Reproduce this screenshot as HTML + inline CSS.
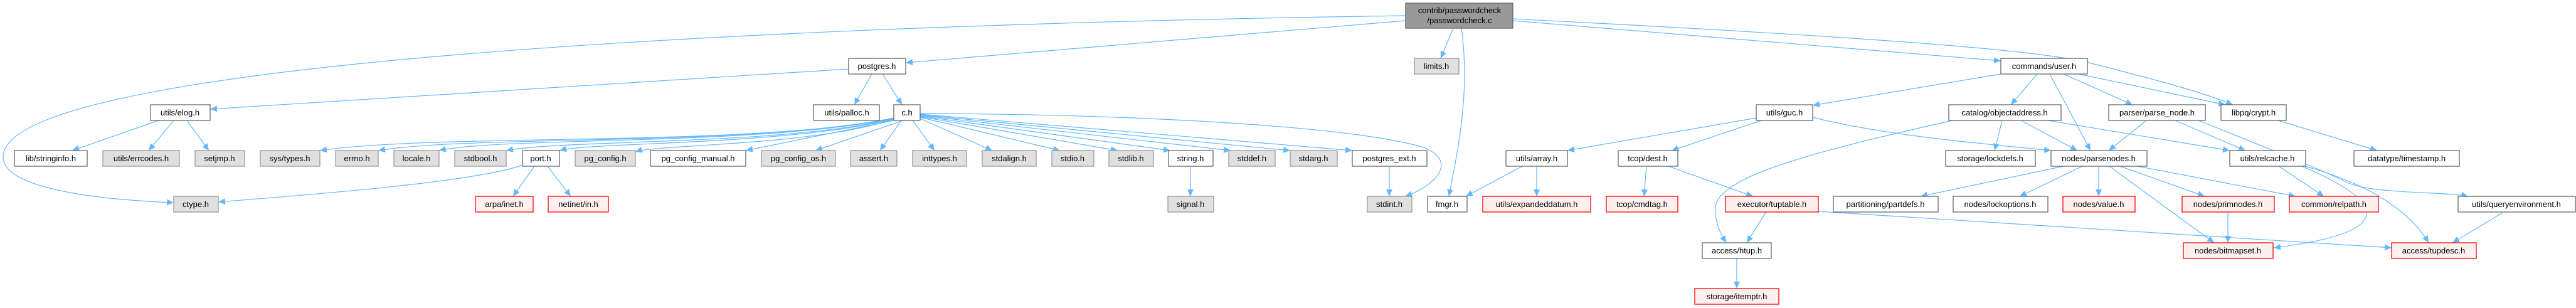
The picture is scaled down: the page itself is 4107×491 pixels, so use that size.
<!DOCTYPE html>
<html><head><meta charset="utf-8"><style>
html,body{margin:0;padding:0;background:#fff;}
svg{display:block;}
text{font-family:"Liberation Sans",sans-serif;font-size:13px;fill:#000;text-anchor:middle;}
.w{fill:#fff;stroke:#666;stroke-width:1.3}
.g{fill:#e0e0e0;stroke:#999;stroke-width:1.3}
.r{fill:#fff0f0;stroke:#f00;stroke-width:1.3}
.k{fill:#999;stroke:#666;stroke-width:1.3}
path.e{fill:none;stroke:#63b8ff;stroke-width:1.2;marker-end:url(#a)}
</style></head><body>
<svg width="4107" height="491" viewBox="0 0 4107 491" xmlns="http://www.w3.org/2000/svg">
<defs><marker id="a" markerUnits="userSpaceOnUse" markerWidth="12" markerHeight="10" refX="11" refY="5" orient="auto"><path d="M0,0 L11,5 L0,10 z" fill="#63b8ff"/></marker></defs>
<g>
<path class="e" d="M2241,25 C1200,40 5,100 5,250 C5,300 150,318 277,323"/>
<path class="e" d="M2241,33 L1444,100"/>
<path class="e" d="M2317,45 L2297,93"/>
<path class="e" d="M2330,45 C2345,150 2322,250 2310,313"/>
<path class="e" d="M2412,33 L3190,97"/>
<path class="e" d="M2412,30 C3000,60 3250,80 3330,100 C3450,130 3520,150 3560,167"/>
<path class="e" d="M1353,110 L335,174"/>
<path class="e" d="M1390,118 L1362,167"/>
<path class="e" d="M1407,118 L1438,167"/>
<path class="e" d="M253,192 L115,240"/>
<path class="e" d="M277,192 L237,240"/>
<path class="e" d="M298,192 L333,240"/>
<path class="e" d="M1425,188 C1200,235 700,212 510,240"/>
<path class="e" d="M1425,188 C1200,234 750,215 603,240"/>
<path class="e" d="M1425,189 C1200,233 800,218 700,240"/>
<path class="e" d="M1425,189 C1250,232 900,222 807,240"/>
<path class="e" d="M1425,190 C1250,232 950,226 892,240"/>
<path class="e" d="M1425,190 C1300,232 1050,230 1013,242"/>
<path class="e" d="M1430,191 L1189,240"/>
<path class="e" d="M1440,192 L1300,240"/>
<path class="e" d="M1437,192 L1403,240"/>
<path class="e" d="M1455,192 L1490,240"/>
<path class="e" d="M1467,189 L1582,240"/>
<path class="e" d="M1467,187 L1690,240"/>
<path class="e" d="M1467,186 L1782,240"/>
<path class="e" d="M1467,185 L1866,240"/>
<path class="e" d="M1467,184 L1962,240"/>
<path class="e" d="M1467,183 L2057,240"/>
<path class="e" d="M1467,182 L2156,240"/>
<path class="e" d="M1467,181 C1800,182 2150,200 2270,235 C2330,260 2280,300 2240,313"/>
<path class="e" d="M833,263 C760,290 500,310 348,322"/>
<path class="e" d="M852,265 L818,313"/>
<path class="e" d="M873,265 L910,313"/>
<path class="e" d="M1898,265 L1898,313"/>
<path class="e" d="M2215,265 L2215,313"/>
<path class="e" d="M3190,118 L2890,168"/>
<path class="e" d="M3248,118 L3206,167"/>
<path class="e" d="M3268,118 L3333,240"/>
<path class="e" d="M3290,118 L3400,167"/>
<path class="e" d="M3314,118 L3548,167"/>
<path class="e" d="M2800,188 L2499,240"/>
<path class="e" d="M2808,192 L2665,240"/>
<path class="e" d="M2890,187 C3000,215 3150,228 3270,240"/>
<path class="e" d="M3113,192 C2900,240 2740,280 2735,330 C2733,355 2745,375 2752,387"/>
<path class="e" d="M2427,265 L2337,313"/>
<path class="e" d="M2450,265 L2450,313"/>
<path class="e" d="M2625,265 L2621,313"/>
<path class="e" d="M2660,265 L2795,313"/>
<path class="e" d="M2815,339 L2785,387"/>
<path class="e" d="M2899,337 L3813,395"/>
<path class="e" d="M2769,412 L2769,460"/>
<path class="e" d="M3192,192 L3180,240"/>
<path class="e" d="M3222,192 L3312,240"/>
<path class="e" d="M3265,192 L3555,240"/>
<path class="e" d="M3422,192 L3362,240"/>
<path class="e" d="M3468,192 L3580,240"/>
<path class="e" d="M3505,192 C3650,250 3700,270 3740,290 S3900,305 3935,313"/>
<path class="e" d="M3632,192 L3790,240"/>
<path class="e" d="M3290,265 L3062,313"/>
<path class="e" d="M3320,265 L3220,313"/>
<path class="e" d="M3346,265 L3346,313"/>
<path class="e" d="M3363,265 L3530,387"/>
<path class="e" d="M3380,265 L3515,313"/>
<path class="e" d="M3408,265 L3660,313"/>
<path class="e" d="M3633,265 L3705,313"/>
<path class="e" d="M3670,265 C3800,320 3830,370 3625,395"/>
<path class="e" d="M3675,265 C3800,300 3850,350 3872,387"/>
<path class="e" d="M3552,339 L3552,387"/>
<path class="e" d="M3990,339 L3910,387"/>
</g>
<g>
<rect class="k" x="2241" y="5" width="171" height="40"/><text x="2327" y="21">contrib/passwordcheck</text><text x="2327" y="37">/passwordcheck.c</text>
<rect class="w" x="1353" y="93" width="91" height="25"/><text x="1398" y="110">postgres.h</text>
<rect class="g" x="2255" y="93" width="71" height="25"/><text x="2290" y="110">limits.h</text>
<rect class="w" x="3190" y="93" width="138" height="25"/><text x="3259" y="110">commands/user.h</text>
<rect class="w" x="240" y="167" width="95" height="25"/><text x="287" y="184">utils/elog.h</text>
<rect class="w" x="1297" y="167" width="105" height="25"/><text x="1350" y="184">utils/palloc.h</text>
<rect class="w" x="1425" y="167" width="42" height="25"/><text x="1446" y="184">c.h</text>
<rect class="w" x="2800" y="167" width="90" height="25"/><text x="2845" y="184">utils/guc.h</text>
<rect class="w" x="3107" y="167" width="179" height="25"/><text x="3196" y="184">catalog/objectaddress.h</text>
<rect class="w" x="3362" y="167" width="154" height="25"/><text x="3439" y="184">parser/parse_node.h</text>
<rect class="w" x="3541" y="167" width="104" height="25"/><text x="3593" y="184">libpq/crypt.h</text>
<rect class="w" x="23" y="240" width="116" height="25"/><text x="81" y="257">lib/stringinfo.h</text>
<rect class="g" x="164" y="240" width="122" height="25"/><text x="225" y="257">utils/errcodes.h</text>
<rect class="g" x="311" y="240" width="79" height="25"/><text x="350" y="257">setjmp.h</text>
<rect class="g" x="415" y="240" width="95" height="25"/><text x="462" y="257">sys/types.h</text>
<rect class="g" x="535" y="240" width="68" height="25"/><text x="569" y="257">errno.h</text>
<rect class="g" x="628" y="240" width="72" height="25"/><text x="664" y="257">locale.h</text>
<rect class="g" x="725" y="240" width="82" height="25"/><text x="766" y="257">stdbool.h</text>
<rect class="w" x="833" y="240" width="59" height="25"/><text x="862" y="257">port.h</text>
<rect class="g" x="917" y="240" width="96" height="25"/><text x="965" y="257">pg_config.h</text>
<rect class="w" x="1037" y="240" width="152" height="25"/><text x="1113" y="257">pg_config_manual.h</text>
<rect class="g" x="1214" y="240" width="118" height="25"/><text x="1273" y="257">pg_config_os.h</text>
<rect class="g" x="1356" y="240" width="74" height="25"/><text x="1393" y="257">assert.h</text>
<rect class="g" x="1455" y="240" width="86" height="25"/><text x="1498" y="257">inttypes.h</text>
<rect class="g" x="1566" y="240" width="86" height="25"/><text x="1609" y="257">stdalign.h</text>
<rect class="g" x="1677" y="240" width="67" height="25"/><text x="1710" y="257">stdio.h</text>
<rect class="g" x="1768" y="240" width="71" height="25"/><text x="1803" y="257">stdlib.h</text>
<rect class="w" x="1863" y="240" width="71" height="25"/><text x="1898" y="257">string.h</text>
<rect class="g" x="1959" y="240" width="74" height="25"/><text x="1996" y="257">stddef.h</text>
<rect class="g" x="2057" y="240" width="75" height="25"/><text x="2094" y="257">stdarg.h</text>
<rect class="w" x="2156" y="240" width="119" height="25"/><text x="2215" y="257">postgres_ext.h</text>
<rect class="w" x="2401" y="240" width="98" height="25"/><text x="2450" y="257">utils/array.h</text>
<rect class="w" x="2580" y="240" width="95" height="25"/><text x="2627" y="257">tcop/dest.h</text>
<rect class="w" x="3102" y="240" width="143" height="25"/><text x="3173" y="257">storage/lockdefs.h</text>
<rect class="w" x="3270" y="240" width="153" height="25"/><text x="3346" y="257">nodes/parsenodes.h</text>
<rect class="w" x="3555" y="240" width="121" height="25"/><text x="3615" y="257">utils/relcache.h</text>
<rect class="w" x="3753" y="240" width="168" height="25"/><text x="3837" y="257">datatype/timestamp.h</text>
<rect class="g" x="277" y="313" width="71" height="25"/><text x="312" y="330">ctype.h</text>
<rect class="r" x="758" y="313" width="92" height="25"/><text x="804" y="330">arpa/inet.h</text>
<rect class="r" x="874" y="313" width="96" height="25"/><text x="922" y="330">netinet/in.h</text>
<rect class="g" x="1862" y="313" width="73" height="25"/><text x="1898" y="330">signal.h</text>
<rect class="g" x="2180" y="313" width="71" height="25"/><text x="2215" y="330">stdint.h</text>
<rect class="w" x="2276" y="313" width="63" height="25"/><text x="2307" y="330">fmgr.h</text>
<rect class="r" x="2364" y="313" width="172" height="25"/><text x="2450" y="330">utils/expandeddatum.h</text>
<rect class="r" x="2561" y="313" width="114" height="25"/><text x="2618" y="330">tcop/cmdtag.h</text>
<rect class="r" x="2751" y="313" width="148" height="25"/><text x="2825" y="330">executor/tuptable.h</text>
<rect class="w" x="2923" y="313" width="167" height="25"/><text x="3006" y="330">partitioning/partdefs.h</text>
<rect class="w" x="3114" y="313" width="151" height="25"/><text x="3189" y="330">nodes/lockoptions.h</text>
<rect class="r" x="3289" y="313" width="115" height="25"/><text x="3346" y="330">nodes/value.h</text>
<rect class="r" x="3479" y="313" width="147" height="25"/><text x="3552" y="330">nodes/primnodes.h</text>
<rect class="r" x="3650" y="313" width="142" height="25"/><text x="3721" y="330">common/relpath.h</text>
<rect class="w" x="3919" y="313" width="187" height="25"/><text x="4012" y="330">utils/queryenvironment.h</text>
<rect class="w" x="2714" y="387" width="110" height="25"/><text x="2769" y="404">access/htup.h</text>
<rect class="r" x="3481" y="387" width="143" height="25"/><text x="3552" y="404">nodes/bitmapset.h</text>
<rect class="r" x="3813" y="387" width="135" height="25"/><text x="3880" y="404">access/tupdesc.h</text>
<rect class="r" x="2702" y="460" width="134" height="25"/><text x="2769" y="477">storage/itemptr.h</text>
</g>
</svg>
</body></html>
